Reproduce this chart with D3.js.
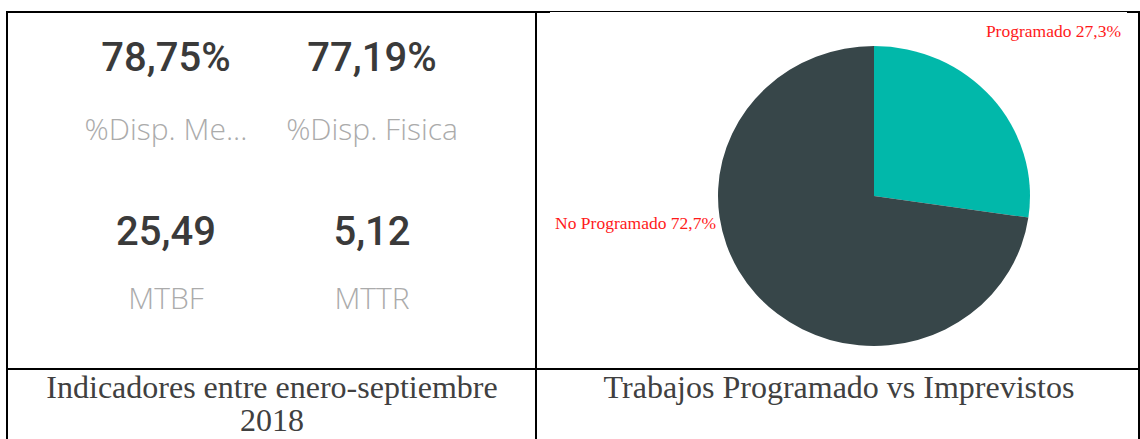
<!DOCTYPE html>
<html>
<head>
<meta charset="utf-8">
<script src="https://cdn.jsdelivr.net/npm/d3@7"></script>
<style>
  body { margin: 0; background: #fff; }
  svg { display: block; }
</style>
</head>
<body>
<div id="chart"></div>
<script>
// KPI cards (left cell)
var kpiValues = ["78,75%", "77,19%", "25,49", "5,12"];
var kpiLabels = ["%Disp. Me...", "%Disp. Fisica", "MTBF", "MTTR"];

// pie (right cell)
var sliceNames = ["Programado", "No Programado"];
var sliceValues = [27.3, 72.7];
var sliceLabels = ["Programado 27,3%", "No Programado 72,7%"];
var sliceColors = ["#01B8AA", "#374649"];

// captions under each cell
var captionLeft = ["Indicadores entre enero-septiembre", "2018"];
var captionRight = ["Trabajos Programado vs Imprevistos"];

var width = 1140, height = 439;

var svg = d3.select('#chart').append('svg')
    .attr("width", width)
    .attr("height", height);

// table lines
var grid = svg.append("g").attr("stroke", "#000");
grid.append("line").attr("x1", 7).attr("x2", 550).attr("y1", 12).attr("y2", 12).attr("stroke-width", 2);
grid.append("line").attr("x1", 550).attr("x2", 1127).attr("y1", 11.5).attr("y2", 11.5).attr("stroke-width", 1);
grid.append("line").attr("x1", 1127).attr("x2", 1140).attr("y1", 12).attr("y2", 12).attr("stroke-width", 2);
grid.append("line").attr("x1", 7).attr("x2", 7).attr("y1", 11).attr("y2", height).attr("stroke-width", 2);
grid.append("line").attr("x1", 536).attr("x2", 536).attr("y1", 11).attr("y2", height).attr("stroke-width", 2);
grid.append("line").attr("x1", 1139).attr("x2", 1139).attr("y1", 11).attr("y2", height).attr("stroke-width", 2);
grid.append("line").attr("x1", 6).attr("x2", 1140).attr("y1", 369).attr("y2", 369).attr("stroke-width", 2);

// KPI grid: 2 columns x 2 rows
var colX = d3.scaleOrdinal().domain([0, 1]).range([166, 372]);
var rowY = d3.scaleOrdinal().domain([0, 1]).range([71, 245]);

var cards = svg.selectAll(".card")
    .data(kpiValues)
    .enter().append("g")
    .attr("class", "card")
    .attr("transform", (d, i) => "translate(" + colX(i % 2) + "," + rowY(Math.floor(i / 2)) + ")");

cards.append("text")
    .attr("text-anchor", "middle")
    .attr("font-family", "Roboto")
    .attr("font-weight", 500)
    .attr("font-size", 40)
    .attr("fill", "#3a3a3a")
    .text(d => d);

cards.append("text")
    .attr("text-anchor", "middle")
    .attr("y", (d, i) => i < 2 ? 69 : 64)
    .attr("font-family", "Open Sans")
    .attr("font-weight", 300)
    .attr("font-size", 30)
    .attr("fill", "#ababab")
    .text((d, i) => kpiLabels[i]);

// pie
var cx = 874, cy = 196, r = 150;
var pie = d3.pie().sort(null).value(d => d);
var arc = d3.arc().innerRadius(0).outerRadius(r);

var pieG = svg.append("g")
    .attr("transform", "translate(" + cx + "," + cy + ") scale(1.04,1)");

pieG.selectAll("path")
    .data(pie(sliceValues))
    .enter().append("path")
    .attr("d", arc)
    .attr("fill", (d, i) => sliceColors[i]);

// slice labels
var labelPos = [[1121, 37], [716, 229]];
svg.selectAll(".slice-label")
    .data(sliceLabels)
    .enter().append("text")
    .attr("class", "slice-label")
    .attr("x", (d, i) => labelPos[i][0])
    .attr("y", (d, i) => labelPos[i][1])
    .attr("text-anchor", "end")
    .attr("font-family", "Liberation Serif")
    .attr("font-size", 17.5)
    .attr("fill", "#ff1a1a")
    .text(d => d);

// captions
svg.append("g").selectAll("text")
    .data(captionLeft)
    .enter().append("text")
    .attr("x", 272)
    .attr("y", (d, i) => 398 + i * 33)
    .attr("text-anchor", "middle")
    .attr("font-family", "Liberation Serif")
    .attr("font-size", 32)
    .attr("fill", "#404040")
    .text(d => d);

svg.append("g").selectAll("text")
    .data(captionRight)
    .enter().append("text")
    .attr("x", 839)
    .attr("y", 398)
    .attr("text-anchor", "middle")
    .attr("font-family", "Liberation Serif")
    .attr("font-size", 32)
    .attr("fill", "#404040")
    .text(d => d);
</script>
</body>
</html>
